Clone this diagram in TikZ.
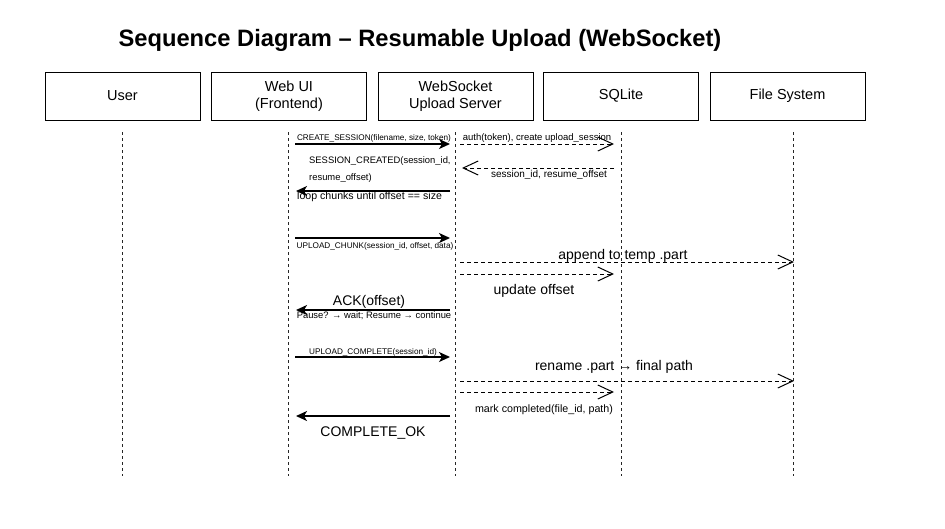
\documentclass[tikz,border=0pt]{standalone}
\usepackage{fontspec}
\setmainfont{Liberation Sans}
\usetikzlibrary{arrows.meta}
\newcommand\fsz[2]{\fontsize{#1}{#2}\selectfont}
\begin{document}
\begin{tikzpicture}[x=1pt,y=-1pt,
  actor/.style={draw, line width=1pt, minimum width=155pt, minimum height=48pt, align=center, font=\fsz{14.5}{17}, inner sep=0},
  life/.style={draw=black!85, line width=1pt, dash pattern=on 3pt off 3pt},
  sync/.style={line width=1.5pt, -{Stealth[length=11pt,width=10pt,inset=3pt]}},
  async/.style={line width=1pt, dash pattern=on 4pt off 3pt, -{Straight Barb[length=15pt,width=14pt,line width=1pt]}},
  lbl/.style={inner sep=0, anchor=center},
  tiny/.style={lbl, font=\fsz{8.2}{9}},
  small/.style={lbl, font=\fsz{10}{12}},
  big/.style={lbl, font=\fsz{14}{16}}
]
\useasboundingbox (0,0) rectangle (945,528);
\fill[white] (0,0) rectangle (945,528);

\node[lbl, font=\bfseries\fsz{23.7}{28}] (title) at (420,40) {Sequence Diagram – Resumable Upload (WebSocket)};

\node[actor] (user) at (122.5,96) {User};
\node[actor] (web) at (289,96) {Web UI\\(Frontend)};
\node[actor] (ws) at (455.5,96) {WebSocket\\Upload Server};
\node[actor] (db) at (621,96) {SQLite};
\node[actor] (fs) at (787.5,96) {File System};

% lifelines
\foreach \n/\x in {u/122,w/288,s/455,q/621,f/793}{
  \coordinate (\n top) at (\x,132);
  \coordinate (\n bot) at (\x,476);
  \draw[life] (\n top) -- (\n bot);
}

% message end points
\coordinate (a1s) at (295,144); \coordinate (a1e) at (450,144);
\coordinate (a2s) at (460,144); \coordinate (a2e) at (614,144);
\coordinate (a3s) at (614,168); \coordinate (a3e) at (462,168);
\coordinate (a4s) at (450,191); \coordinate (a4e) at (296,191);
\coordinate (a5s) at (295,238); \coordinate (a5e) at (450,238);
\coordinate (a6s) at (460,262); \coordinate (a6e) at (794,262);
\coordinate (a7s) at (460,274); \coordinate (a7e) at (614,274);
\coordinate (a8s) at (450,310); \coordinate (a8e) at (296,310);
\coordinate (a9s) at (295,357); \coordinate (a9e) at (450,357);
\coordinate (a10s) at (460,381); \coordinate (a10e) at (794,381);
\coordinate (a11s) at (460,392); \coordinate (a11e) at (614,392);
\coordinate (a12s) at (450,416); \coordinate (a12e) at (296,416);

\draw[sync] (a1s) -- (a1e);
\draw[async] (a2s) -- (a2e);
\draw[async] (a3s) -- (a3e);
\draw[sync] (a4s) -- (a4e);
\draw[sync] (a5s) -- (a5e);
\draw[async] (a6s) -- (a6e);
\draw[async] (a7s) -- (a7e);
\draw[sync] (a8s) -- (a8e);
\draw[sync] (a9s) -- (a9e);
\draw[async] (a10s) -- (a10e);
\draw[async] (a11s) -- (a11e);
\draw[sync] (a12s) -- (a12e);

% labels
\node[tiny] (l1) at (374,138) {CREATE\_SESSION(filename, size, token)};
\node[lbl, font=\fsz{9.5}{11}] (l2) at (537,138) {auth(token), create upload\_session};
\node[lbl, font=\fsz{10}{12}] (l3) at (549,175) {session\_id, resume\_offset};
\node[lbl, font=\fsz{9.4}{11}, anchor=west] (l4a) at (309,161) {SESSION\_CREATED(session\_id,};
\node[lbl, font=\fsz{9.4}{11}, anchor=west] (l4b) at (309,178) {resume\_offset)};
\node[lbl, font=\fsz{10.6}{12}, anchor=west] (l4c) at (297,197) {loop chunks until offset == size};
\node[tiny] (l5) at (375,246) {UPLOAD\_CHUNK(session\_id, offset, data)};
\node[big] (l6) at (623,256) {append to temp .part};
\node[big] (l7) at (534,291) {update offset};
\node[big] (l8) at (369,302) {ACK(offset)};
\node[lbl, font=\fsz{9.4}{10}] (l8b) at (374,316) {Pause? → wait; Resume → continue};
\node[tiny] (l9) at (373,352) {UPLOAD\_COMPLETE(session\_id)};
\node[big] (l10) at (614,367) {rename .part → final path};
\node[lbl, font=\fsz{10.7}{12}] (l11) at (544,410) {mark completed(file\_id, path)};
\node[big] (l12) at (373,433) {COMPLETE\_OK};
\end{tikzpicture}
\end{document}
